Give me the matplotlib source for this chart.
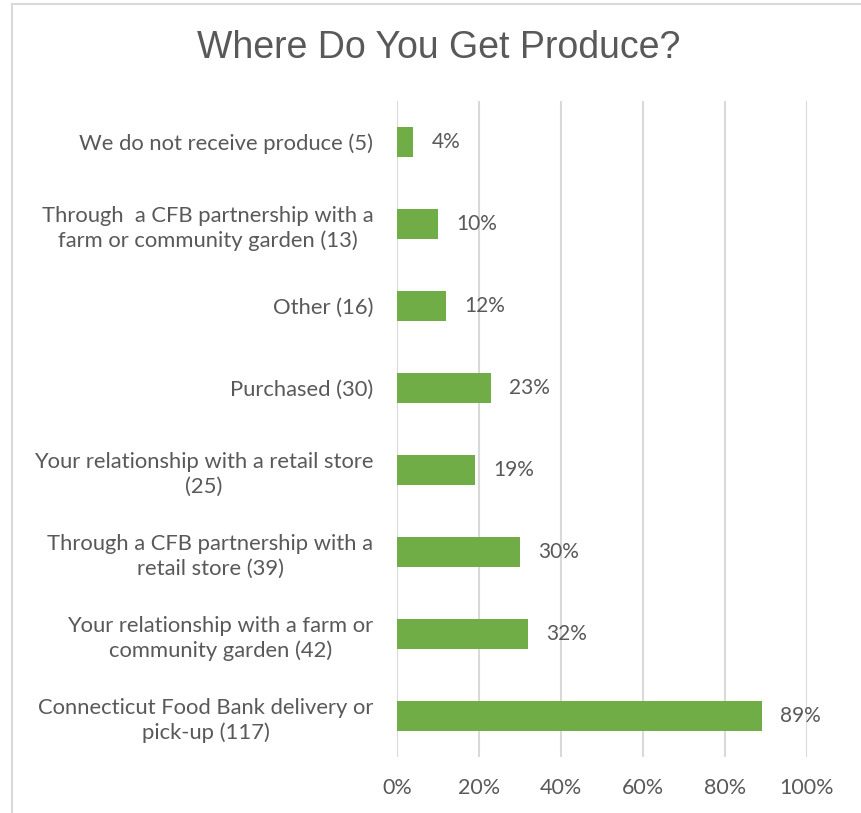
import matplotlib
matplotlib.use("Agg")
import matplotlib.pyplot as plt
from matplotlib.patches import Rectangle

categories = [
    "We do not receive produce (5)",
    "Through  a CFB partnership with a\nfarm or community garden (13)",
    "Other (16)",
    "Purchased (30)",
    "Your relationship with a retail store\n(25)",
    "Through a CFB partnership with a\nretail store (39)",
    "Your relationship with a farm or\ncommunity garden (42)",
    "Connecticut Food Bank delivery or\npick-up (117)",
]
percentages = [4, 10, 12, 23, 19, 30, 32, 89]
x_ticks = [0, 20, 40, 60, 80, 100]
x_tick_labels = ["0%", "20%", "40%", "60%", "80%", "100%"]

text_color = "#595959"
bar_color = "#70AD47"
grid_color = "#D9D9D9"
label_font = "Lato"

fig = plt.figure(figsize=(8.62, 8.13), dpi=100)
fig.patches.append(Rectangle((12 / 862, -0.1), 1.2, (813 - 4) / 813 + 0.1,
                             transform=fig.transFigure, fill=False,
                             edgecolor=grid_color, linewidth=1.5))

ax = fig.add_axes([397 / 862, (813 - 757) / 813, 410 / 862, (757 - 101) / 813])

n = len(categories)
y = [n - 1 - i for i in range(n)]
ax.barh(y, percentages, height=0.36, color=bar_color, zorder=3)

for yi, v in zip(y, percentages):
    ax.annotate(f"{v}%", xy=(v, yi), xytext=(13, 0), textcoords="offset points",
                va="center", ha="left", fontsize=15, color=text_color,
                family=label_font)

ax.set_xlim(0, 100)
ax.set_ylim(-0.5, n - 0.5)
ax.set_xticks(x_ticks)
ax.set_xticklabels(x_tick_labels, fontsize=15.5, color=text_color, family=label_font)
ax.set_yticks(y)
ax.set_yticklabels(categories, fontsize=15.8, color=text_color, family=label_font,
                   ha="right", multialignment="center", linespacing=1.3)
ax.tick_params(axis="y", length=0, pad=17)
ax.tick_params(axis="x", length=0, pad=15)
ax.xaxis.grid(True, color=grid_color, linewidth=1.5, zorder=0)
for s in ax.spines.values():
    s.set_visible(False)

fig.text(438.5 / 862, (813 - 48) / 813, "Where Do You Get Produce?",
         ha="center", va="center", fontsize=27, color=text_color,
         family="Liberation Sans")

fig.savefig("out.png", dpi=100)
